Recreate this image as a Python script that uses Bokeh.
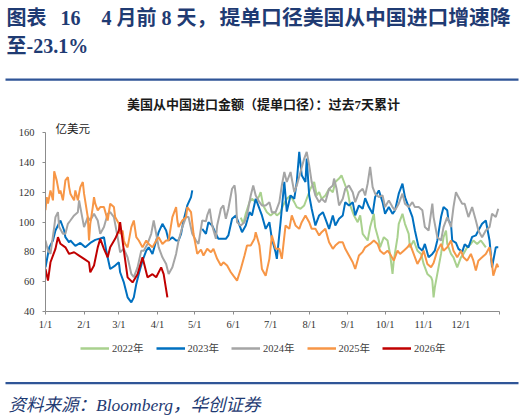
from bokeh.plotting import figure
from bokeh.layouts import column
from bokeh.models import Label, Legend, LegendItem, FixedTicker, BoxAnnotation, Range1d
from bokeh.embed import file_html
from bokeh.resources import INLINE

# ---------------- data (day of year, value in 亿美元) ----------------
month_ticks = [0, 31, 59, 90, 120, 151, 181, 212, 243, 273, 304, 334, 365]
month_labels = ["1/1", "2/1", "3/1", "4/1", "5/1", "6/1", "7/1", "8/1", "9/1",
                "10/1", "11/1", "12/1", ""]
y_ticks = [40, 60, 80, 100, 120, 140, 160]
series_names = ["2022年", "2023年", "2024年", "2025年", "2026年"]

days_2022 = [157, 159, 161, 164, 166, 169, 172, 173, 175, 178, 181, 184, 186, 189, 191, 194,
             197, 200, 202, 205, 208, 210, 213, 216, 218, 220, 222, 225, 228, 231, 233, 236,
             238, 240, 243, 245, 248, 251, 253, 255, 259, 261, 264, 265, 268, 269, 272, 275,
             277, 279, 280, 283, 284, 287, 289, 292, 293, 296, 299, 302, 304, 307, 310, 311,
             312, 313, 315, 318, 320, 322, 323, 326, 328, 331, 334, 336, 339, 342, 344, 347,
             350, 352, 354]
vals_2022 = [103, 99, 105.5, 113.3, 115.6, 113.3, 117.8, 120, 111.1, 106.6, 104.4, 106.6,
             104.4, 106.6, 111.1, 115.6, 117.8, 113.3, 110, 108.9, 111.1, 115.6, 122.3, 126.8,
             117.8, 120, 115.6, 117.8, 122.3, 120, 126.8, 129.1, 131.3, 126.8, 120, 111.1,
             104.4, 99.9, 104.4, 92.1, 87.6, 96.6, 105.5, 96.6, 87.6, 83, 89.8, 87.6, 78.6,
             65.2, 74.1, 89.8, 98.8, 105.5, 98.8, 92.1, 83, 87.6, 80.8, 78.6, 71.9, 65.2, 63,
             60.7, 49.5, 56.2, 65.2, 78.6, 89.8, 94.3, 85.3, 78.6, 76.3, 69.6, 76.3, 78.6, 83,
             85.3, 87.6, 85.3, 87.6, 85.3, 83]

days_2023a = [0, 3, 6, 8, 12, 15, 16, 19, 20, 24, 28, 32, 36, 40, 44, 47, 49, 52, 56, 59, 60,
              63, 66, 69, 71, 73, 75, 78, 81, 83, 86, 89, 91, 94, 97, 99, 102, 105, 107, 109,
              111, 114, 117, 118]
vals_2023a = [69.6, 83, 87.6, 94.3, 101, 94.3, 89.8, 86.4, 87.6, 84, 86, 83, 86, 88, 89, 89.8,
              80, 68.5, 70.8, 73, 66.3, 59.5, 49.5, 46.1, 49.5, 58.5, 65.2, 74.1, 80.8, 83,
              78.6, 87.6, 93.2, 98.8, 94.3, 87.6, 89.8, 87.6, 87.6, 92.1, 101, 111.1, 116.7,
              121.2]
days_2023b = [126, 129, 131, 134, 137, 139, 142, 145, 147, 150, 153, 156, 158, 161, 164, 166,
              169, 172, 174, 177, 180, 182, 185, 186, 189, 192, 194, 197, 200, 202, 204, 206,
              209, 210, 212, 214, 217, 220, 223, 225, 228, 231, 233, 236, 239, 241, 244, 247,
              249, 252, 255, 257, 260, 263, 265, 268, 271, 273, 276, 279, 281, 284, 287, 289,
              292, 295, 297, 300, 303, 305, 308, 311, 313, 315, 318, 320, 323, 324, 326, 327,
              330, 332, 335, 337, 340, 343, 346, 348, 351, 354, 357, 359, 362, 364]
vals_2023b = [95.4, 92.1, 99.9, 97.7, 92.1, 88.7, 88.7, 88.7, 91, 102.2, 104.4, 97.7, 93.2,
              97.7, 106.6, 104.4, 115.6, 108.9, 104.4, 95.4, 99.9, 88.7, 79.7, 75.3, 100, 127,
              107, 117.8, 115.6, 126.8, 147, 131.3, 126.8, 142.5, 117.8, 108.9, 97.7, 104.4,
              106.6, 102.2, 95.4, 104.4, 97.7, 102.2, 104.4, 113.3, 111.1, 113.3, 104.4, 111.1,
              108.9, 116, 110, 105.5, 116.7, 121.2, 113.3, 105.5, 110, 105.5, 107.8, 119, 125.7,
              116.7, 110, 103.3, 94.3, 83, 80.8, 85.3, 76.3, 78.6, 80.8, 87.6, 103.3, 110, 107.8,
              101, 98.8, 87.6, 86, 82, 80, 85, 83, 90, 91, 94.3, 98.8, 101, 87.6, 69.6, 83, 83]

days_2024 = [0, 2, 4, 7, 8, 10, 11, 14, 16, 18, 20, 23, 26, 27, 28, 31, 34, 36, 39, 42, 44, 47,
             50, 52, 55, 58, 60, 63, 66, 69, 71, 74, 77, 79, 82, 85, 87, 89, 91, 94, 97, 99, 102,
             105, 107, 110, 113, 115, 118, 121, 123, 126, 129, 130, 132, 134, 137, 138, 141,
             143, 145, 147, 150, 152, 153, 154, 157, 160, 162, 165, 167, 169, 172, 174, 177,
             180, 182, 185, 188, 190, 192, 194, 197, 200, 202, 205, 208, 210, 212, 214, 217,
             220, 222, 225, 228, 231, 232, 234, 236, 239, 241, 244, 247, 249, 252, 255, 257,
             259, 261, 263, 265, 268, 271, 273, 276, 279, 281, 284, 287, 289, 292, 295, 297,
             300, 303, 305, 308, 311, 312, 315, 318, 320, 323, 326, 328, 330, 332, 335, 337,
             340, 343, 346, 348, 351, 354, 357, 359, 362, 364]
vals_2024 = [87.6, 80.8, 78.6, 96.6, 103.3, 106.6, 96.6, 92.1, 92.1, 98.8, 101, 104.4, 106.6,
             114.5, 110, 96.6, 103.3, 101, 105.5, 101, 92.1, 96.6, 105.5, 106.6, 103.3, 89.8,
             79.7, 82, 76.3, 65.2, 63, 69.6, 80.8, 80.8, 85.3, 92.1, 101, 92.1, 83, 76.3, 71.9,
             65.2, 69.6, 78.6, 87.6, 96.6, 103.3, 103.3, 92.1, 87.6, 85.3, 101, 100.5, 104.4,
             108.9, 97.7, 88.7, 97.7, 108.9, 111.1, 102.2, 108.9, 122.3, 124.5, 117.8, 99.9,
             97.7, 99.9, 104.4, 117.8, 124.5, 117.8, 113.3, 111.1, 111.1, 113.3, 106.6, 106.6,
             113.3, 124.5, 133.5, 126.8, 133.5, 120, 124.5, 133.5, 142.5, 147, 138, 126.8,
             117.8, 113.3, 115.6, 113.3, 122.3, 124.5, 129.1, 122.3, 111.1, 115.6, 122.3, 124.5,
             120, 113.3, 120, 122.3, 117.8, 125.7, 136.9, 123.4, 119, 116.7, 117.8, 110, 114.5,
             110, 107.8, 112.3, 119, 112.3, 110, 113.3, 110, 110, 107.8, 96.6, 94.3, 112.3,
             103.3, 89.8, 87.6, 96.6, 103.3, 96.6, 110, 120, 116.7, 112.3, 112.3, 103.3, 110,
             101, 94.3, 89.8, 94.3, 96.6, 105.5, 103.3, 108.9]

days_2025 = [0, 1, 2, 4, 6, 7, 9, 11, 12, 14, 15, 16, 18, 19, 20, 23, 24, 26, 27, 28, 30, 31,
             34, 35, 36, 38, 39, 40, 42, 44, 47, 50, 52, 55, 56, 59, 60, 62, 63, 64, 66, 69, 71,
             73, 75, 78, 81, 83, 86, 89, 91, 94, 97, 99, 102, 105, 106, 107, 110, 113, 114, 117,
             119, 122, 125, 127, 130, 133, 135, 138, 141, 143, 146, 149, 151, 154, 157, 160,
             162, 165, 168, 169, 172, 174, 177, 180, 182, 185, 188, 190, 193, 196, 198, 201,
             204, 206, 209, 212, 214, 217, 220, 222, 225, 228, 231, 233, 236, 239, 241, 244,
             247, 249, 252, 255, 257, 261, 264, 267, 269, 272, 275, 277, 280, 283, 285, 288,
             291, 293, 296, 299, 302, 304, 307, 310, 312, 315, 318, 320, 323, 326, 328, 331,
             334, 336, 339, 342, 344, 346, 348, 351, 354, 357, 359, 360, 363, 364]
vals_2025 = [108, 116.7, 112.3, 121.2, 114.5, 134, 127.9, 119, 121.2, 114.5, 121.2, 127.9,
             130.1, 123.4, 119, 114.5, 121.2, 114.5, 119, 123.4, 126.8, 119, 103.3, 87.6, 98.8,
             110, 116.7, 112.3, 107.8, 110, 110, 101, 112.3, 110, 103.3, 98.8, 92, 94.3, 87.6,
             85.3, 83, 96.6, 101, 89.8, 87.6, 83, 87.6, 85.3, 83, 87.6, 89.8, 85.3, 87.6, 87.6,
             103.3, 110, 101, 96.6, 101, 103.3, 110, 106.6, 92.1, 78.6, 81.5, 77.5, 82, 79.7,
             82, 75.3, 70.8, 73, 70.8, 66.3, 64, 60.7, 68.5, 77.5, 84.2, 84.2, 88.7, 93.2,
             84.2, 68.5, 64, 75.3, 91, 82, 82, 75.3, 97.7, 95.4, 104.4, 97.7, 95.4, 99.9, 104.4,
             99.9, 95.4, 95.4, 91, 93.2, 95.4, 86.4, 82, 84.2, 86.4, 86.4, 82, 77.5, 73, 68.5,
             77.5, 80, 83, 85.3, 87.6, 85.3, 80.8, 78.6, 80.8, 78.6, 74.1, 80.8, 78.6, 80.8,
             83, 85.3, 78.6, 71.9, 76.3, 80.8, 71.9, 69.6, 72.5, 80.8, 85.3, 80.8, 83, 87.6,
             80.8, 76.3, 80.8, 76.3, 74.1, 78.6, 74.1, 67.4, 74.1, 76.3, 78.6, 83, 71.9, 64,
             71.9, 69.6]

days_2026 = [0, 2, 4, 8, 10, 12, 16, 19, 23, 27, 31, 35, 36, 39, 42, 44, 47, 50, 52, 56, 59,
             60, 63, 66, 70, 74, 78, 82, 86, 89, 93, 95, 98]
vals_2026 = [68.5, 60.7, 73, 82, 89.8, 85.4, 83, 78.6, 79.7, 77.5, 75.3, 73, 66.3, 70.8, 83,
             88.7, 82, 76.3, 83, 88.7, 94.3, 99.9, 80.8, 62.9, 59.5, 65, 76.3, 62.9, 65, 63,
             69.6, 65, 49.5]

colors = ["#A9D18E", "#0070C0", "#A5A5A5", "#F79646", "#C00000"]
NAVY = "#1F3B73"
RULE = "#2F5597"
SERIF = "Liberation Serif, Noto Sans CJK SC"
W = 524


def canvas(height):
    """a plain figure whose data units are page pixels (y downward)"""
    f = figure(width=W, height=height, output_backend="svg", toolbar_location=None,
               x_range=Range1d(0, W), y_range=Range1d(height, 0),
               x_axis_type=None, y_axis_type=None, min_border=0, frame_align=False)
    f.outline_line_color = None
    f.grid.visible = False
    return f


def add_text(f, text, x, y, size, style="bold", font=SERIF, color=NAVY):
    f.add_layout(Label(x=x, y=y, text=text, text_font=font, text_font_size=size,
                       text_font_style=style, text_color=color, text_baseline="middle"))


# ---------------- header: report title ----------------
HEAD_H = 90
head = canvas(HEAD_H)
add_text(head, "图表", 6, 17, "20px")
add_text(head, "16", 60, 17, "20px")
add_text(head, "4 月前 8 天，", 101, 17, "20px")
add_text(head, "提单口径美国从中国进口增速降", 219, 17, "20.8px")
add_text(head, "至-23.1%", 6, 45, "20px")
head.add_layout(BoxAnnotation(left=5, right=518, top=78, bottom=80.2, fill_color=RULE,
                              fill_alpha=1, line_color=None))

# ---------------- main chart ----------------
MAIN_TOP = HEAD_H                      # page y where the main figure starts
MAIN_BOTTOM = 332
FL, FR = 45, 499                       # frame left / right (page px)
PY160, PY40 = 132, 311                 # page y of the 160 and 40 levels
px_per_unit = (PY40 - PY160) / 120.0
y_top = 160 + (PY160 - MAIN_TOP) / px_per_unit

p = figure(width=W, height=MAIN_BOTTOM - MAIN_TOP, output_backend="svg",
           toolbar_location=None, frame_align=False,
           x_range=Range1d(0, 365), y_range=Range1d(40, y_top),
           min_border_left=FL, min_border_right=W - FR, min_border_top=0,
           min_border_bottom=MAIN_BOTTOM - PY40)
p.outline_line_color = None
p.grid.visible = False


def at(px, py):
    return ((px - FL) / (FR - FL) * 365, 40 + (PY40 - py) / px_per_unit)


for ax in (p.xaxis[0], p.yaxis[0]):
    ax.axis_line_color = "#8C8C8C"
    ax.major_tick_line_color = "#8C8C8C"
    ax.minor_tick_line_color = None
    ax.major_tick_in = 0
    ax.major_tick_out = 3
    ax.major_label_text_font = "Liberation Serif"
    ax.major_label_text_font_size = "10.5px"
    ax.major_label_text_color = "#333333"

p.xaxis.ticker = FixedTicker(ticks=month_ticks)
p.xaxis.major_label_overrides = {t: l for t, l in zip(month_ticks, month_labels)}
p.xaxis.major_label_standoff = 4
p.yaxis.ticker = FixedTicker(ticks=y_ticks)
p.yaxis.bounds = (40, 160)
p.yaxis.major_label_standoff = 8

series = [(days_2022, vals_2022), (days_2023a, vals_2023a), (days_2023b, vals_2023b),
          (days_2024, vals_2024), (days_2025, vals_2025), (days_2026, vals_2026)]
series_colors = [colors[0], colors[1], colors[1], colors[2], colors[3], colors[4]]
for (d, v), c in zip(series, series_colors):
    p.line(d, v, line_color=c, line_width=2)

x, y = at(263, 104)
p.add_layout(Label(x=x, y=y, text="美国从中国进口金额（提单口径）：过去7天累计",
                   text_font=SERIF, text_font_size="13px", text_font_style="bold",
                   text_color="#1A1A1A", text_align="center", text_baseline="middle"))
x, y = at(55, 127)
p.add_layout(Label(x=x, y=y, text="亿美元", text_font="Noto Sans CJK SC",
                   text_font_size="11.5px", text_color="#1A1A1A", text_baseline="middle"))

# ---------------- footer: legend + source ----------------
FOOT_H = 420 - MAIN_BOTTOM
foot = canvas(FOOT_H)
legend_series = [(days_2022, vals_2022), (days_2023a, vals_2023a), (days_2024, vals_2024),
                 (days_2025, vals_2025), (days_2026, vals_2026)]
keys = [foot.line(d, v, line_color=c, line_width=2.5, visible=False)
        for (d, v), c in zip(legend_series, colors)]
legend = Legend(items=[LegendItem(label=n, renderers=[r]) for n, r in zip(series_names, keys)],
                orientation="horizontal", location=(80, FOOT_H - (355 - MAIN_BOTTOM)),
                glyph_width=29, glyph_height=12, label_height=12, label_standoff=3,
                spacing=12, padding=0, margin=0, border_line_color=None,
                background_fill_alpha=0, inactive_fill_alpha=0, label_text_font=SERIF,
                label_text_font_size="10.5px", label_text_color="#404040")
foot.add_layout(legend, "center")
foot.add_layout(BoxAnnotation(left=5, right=518, top=381.5 - MAIN_BOTTOM,
                              bottom=383.7 - MAIN_BOTTOM, fill_color=RULE, fill_alpha=1,
                              line_color=None))
add_text(foot, "资料来源：Bloomberg，华创证券", 8, 404 - MAIN_BOTTOM, "17.5px",
         style="italic")

layout = column(head, p, foot, spacing=0)
open("out.html", "w").write(file_html(layout, INLINE))
